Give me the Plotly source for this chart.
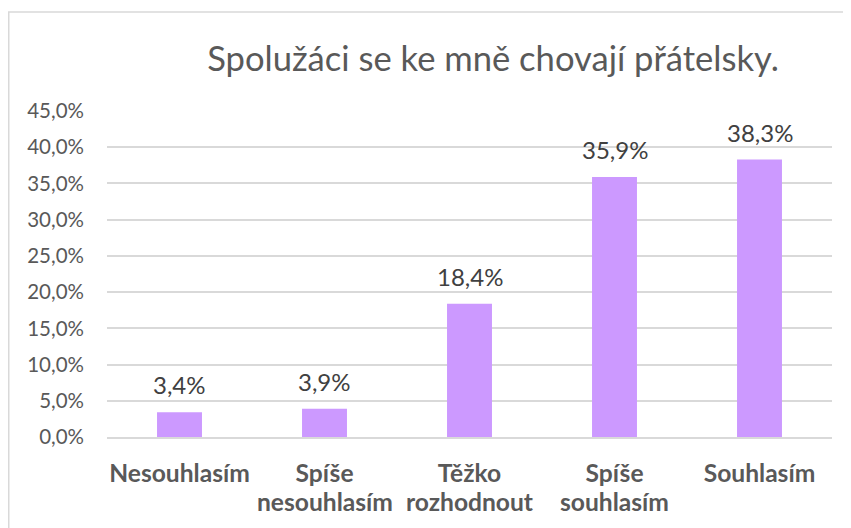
import plotly.graph_objects as go

categories = ["Nesouhlasím", "Spíše\nnesouhlasím", "Těžko\nrozhodnout", "Spíše\nsouhlasím", "Souhlasím"]
values = [0.034, 0.039, 0.184, 0.359, 0.383]
title_text = "Spolužáci se ke mně chovají přátelsky."

line1 = [c.split("\n")[0] for c in categories]
line2 = [c.split("\n")[1] if "\n" in c else "" for c in categories]

OFF = 8  # browser body margin
W, H = 851 - OFF, 528 - OFF
L, R, T, B = 107 - OFF, 19, 111 - OFF, 91
pw, ph = W - L - R, H - T - B

fig = go.Figure(go.Bar(
    x=categories, y=values,
    marker=dict(color="#CC99FF", line=dict(width=0)),
    hoverinfo="skip",
))

cat_font = dict(family="Lato", size=24.6, color="#595959", weight="bold")

fig.update_layout(
    width=W, height=H,
    margin=dict(l=L, r=R, t=T, b=B, autoexpand=False),
    paper_bgcolor="white", plot_bgcolor="white",
    separators=", ",
    bargap=0.69,
    showlegend=False,
    title=dict(text=title_text, x=(493 - OFF) / W, xanchor="center", y=1 - 50.5 / H, yanchor="middle",
               font=dict(family="Lato", size=34.6, color="#595959")),
    font=dict(family="Lato", color="#595959"),
    xaxis=dict(showgrid=False, showline=True, linecolor="#D9D9D9", linewidth=1.5, automargin=False,
               tickmode="array", tickvals=categories, ticktext=line1,
               tickfont=cat_font, ticks="", ticklabelstandoff=14),
    yaxis=dict(range=[0, 0.45], dtick=0.05, tickformat=".1%", showgrid=True, automargin=False,
               gridcolor="#D9D9D9", gridwidth=1.5, zeroline=False, showline=False,
               tickfont=dict(family="Lato", size=20.5, color="#595959"),
               ticks="", ticklabelstandoff=22),
    shapes=[dict(type="rect", xref="paper", yref="paper",
                 x0=(0.75 - L) / pw, x1=(W + 5 - L) / pw,
                 y0=(H - B - (H + 5)) / ph, y1=(H - B - (12 - OFF)) / ph,
                 line=dict(color="#D9D9D9", width=1.5), fillcolor="rgba(0,0,0,0)", layer="below")],
)

for c, v in zip(categories, values):
    fig.add_annotation(x=c, y=v, xref="x", yref="y", text=f"{v*100:.1f}%".replace(".", ","),
                       showarrow=False, yanchor="bottom", yshift=11,
                       font=dict(family="Lato", size=24, color="#404040"))

for c, t2 in zip(categories, line2):
    if t2:
        fig.add_annotation(x=c, y=0, xref="x", yref="paper", text=t2,
                           showarrow=False, yanchor="top", yshift=-48,
                           font=cat_font)

fig.write_html("out.html")
